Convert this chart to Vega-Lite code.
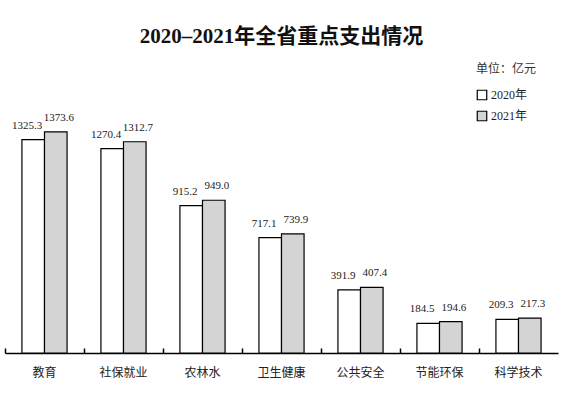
{
  "$schema": "https://vega.github.io/schema/vega-lite/v6.json",
  "autosize": "none",
  "width": 553,
  "height": 253,
  "padding": {"left": 5, "top": 100, "right": 10, "bottom": 40},
  "background": "white",
  "config": {"view": {"stroke": null}, "font": "Liberation Serif, Noto Sans CJK SC"},
  "title": {
    "text": "2020–2021年全省重点支出情况",
    "fontSize": 21,
    "fontWeight": "bold",
    "font": "Liberation Serif, Noto Sans CJK SC",
    "color": "#111",
    "anchor": "middle",
    "baseline": "alphabetic",
    "offset": 0
  },
  "data": {
    "values": [
      {"cat": "教育", "year": "2020年", "value": 1325.3},
      {"cat": "教育", "year": "2021年", "value": 1373.6},
      {"cat": "社保就业", "year": "2020年", "value": 1270.4},
      {"cat": "社保就业", "year": "2021年", "value": 1312.7},
      {"cat": "农林水", "year": "2020年", "value": 915.2},
      {"cat": "农林水", "year": "2021年", "value": 949.0},
      {"cat": "卫生健康", "year": "2020年", "value": 717.1},
      {"cat": "卫生健康", "year": "2021年", "value": 739.9},
      {"cat": "公共安全", "year": "2020年", "value": 391.9},
      {"cat": "公共安全", "year": "2021年", "value": 407.4},
      {"cat": "节能环保", "year": "2020年", "value": 184.5},
      {"cat": "节能环保", "year": "2021年", "value": 194.6},
      {"cat": "科学技术", "year": "2020年", "value": 209.3},
      {"cat": "科学技术", "year": "2021年", "value": 217.3}
    ]
  },
  "encoding": {
    "x": {
      "field": "cat",
      "type": "nominal",
      "sort": null,
      "scale": {"paddingInner": 0, "paddingOuter": 0},
      "axis": {
        "title": null,
        "labelAngle": 0,
        "labelFontSize": 12,
        "labelColor": "#222",
        "labelFont": "Noto Sans CJK SC",
        "bandPosition": 0,
        "tickSize": -5,
        "tickColor": "#000",
        "tickWidth": 1.5,
        "domainColor": "#000",
        "domainWidth": 1.5,
        "labelPadding": 19
      }
    },
    "xOffset": {
      "field": "year",
      "type": "nominal",
      "scale": {"paddingInner": 0, "paddingOuter": 0.75}
    },
    "y": {
      "field": "value",
      "type": "quantitative",
      "scale": {"domain": [0, 1572], "nice": false},
      "axis": null
    }
  },
  "layer": [
    {
      "mark": {"type": "bar", "stroke": "#000", "strokeWidth": 1.2},
      "encoding": {
        "fill": {
          "field": "year",
          "type": "nominal",
          "scale": {"range": ["#ffffff", "#d4d4d4"]},
          "legend": {
            "orient": "none",
            "legendX": 471,
            "legendY": -36,
            "title": "单位：亿元",
            "titleFont": "Noto Sans CJK SC",
            "titleFontSize": 12,
            "titleFontWeight": "normal",
            "titleColor": "#333",
            "titlePadding": 13,
            "labelFontSize": 12,
            "labelColor": "#222",
            "labelFont": "Liberation Serif, Noto Sans CJK SC",
            "symbolType": "square",
            "symbolSize": 90,
            "symbolStrokeColor": "#000",
            "symbolStrokeWidth": 1.2,
            "rowPadding": 5,
            "labelOffset": 3
          }
        }
      }
    },
    {
      "transform": [{"filter": "datum.year == '2020年'"}],
      "mark": {"type": "text", "baseline": "middle", "dy": -14, "dx": -6, "fontSize": 11, "color": "#222", "font": "Liberation Serif"},
      "encoding": {
        "text": {"field": "value", "type": "quantitative", "format": ".1f"}
      }
    },
    {
      "transform": [{"filter": "datum.year == '2021年'"}],
      "mark": {"type": "text", "baseline": "middle", "dy": -14, "dx": 3, "fontSize": 11, "color": "#222", "font": "Liberation Serif"},
      "encoding": {
        "text": {"field": "value", "type": "quantitative", "format": ".1f"}
      }
    }
  ]
}
